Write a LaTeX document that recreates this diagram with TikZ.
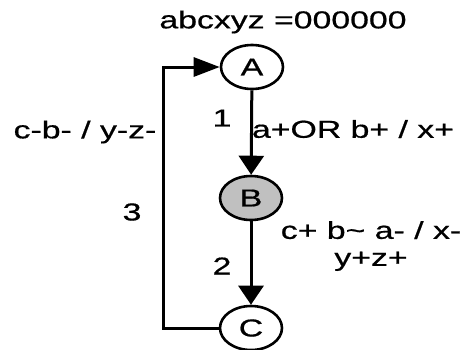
\documentclass[tikz,border=0pt]{standalone}
\usepackage{fontspec}
\setmainfont{Liberation Sans}[FakeBold=0.6]
\usetikzlibrary{shapes.geometric,arrows.meta}
\newcommand\sx[1]{\scalebox{1.38}[1]{#1}}
\begin{document}
\begin{tikzpicture}[x=1pt,y=-1pt,
  every node/.style={font=\fontsize{24.5}{27}\selectfont, inner sep=0pt},
  state/.style={draw, ellipse, line width=2.6pt, minimum width=62pt, minimum height=44pt},
  conn/.style={line width=3pt},
  vtip/.style={-{Triangle[length=19pt,width=25pt]}},
  htip/.style={-{Triangle[length=26pt,width=19pt]}}]
\useasboundingbox (0,0) rectangle (473,349);
\node[state] (A) at (252,67) {\sx{A}};
\node[state, fill={rgb,255:red,192;green,192;blue,192}] (B) at (251,198) {\sx{B}};
\node[state] (C) at (251,328) {\sx{C}};
\coordinate (c1) at (163,328);
\coordinate (c2) at (163,67);
\draw[conn,vtip] (A) -- (B);
\draw[conn,vtip] (B) -- (C);
\draw[conn,htip] (C.west) -- (c1) -- (c2) -- (A.west);
\node (title) at (283,22) {\sx{abcxyz =000000}};
\node (l1) at (222,118) {\sx{1}};
\node (t1) at (353,129) {\sx{a+OR b+ / x+}};
\node (t3) at (85,132) {\sx{c-b- / y-z-}};
\node (l3) at (132,212) {\sx{3}};
\node[align=center] (t2) at (371,246) {\sx{c+ b\textasciitilde{} a- / x-}\\\sx{y+z+}};
\node (l2) at (222,266) {\sx{2}};
\end{tikzpicture}
\end{document}
